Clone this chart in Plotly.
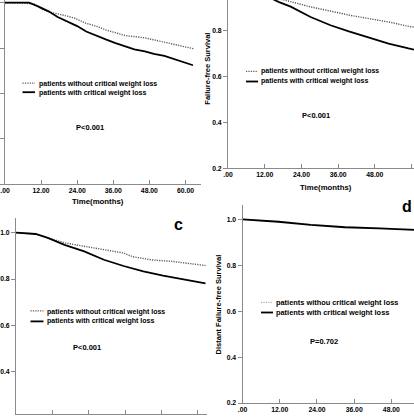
import plotly.graph_objects as go

W, H = 414, 417

# tick labels (SPSS style)
x_tickvals = [0, 12, 24, 36, 48, 60]
x_ticktext = ['.00', '12.00', '24.00', '36.00', '48.00', '60.00']
y_tickvals = [0.2, 0.4, 0.6, 0.8, 1.0]
y_ticktext = ['0.2', '0.4', '0.6', '0.8', '1.0']

label_without = 'patients without critical weight loss'
label_without_d = 'patients withou critical weight loss'
label_with = 'patients with critical weight loss'

# panel a
a_months_without = [0, 9.5, 12.5, 15, 17.5, 23, 27, 30.5, 33.5, 38.5, 40, 46.5, 50, 56.5, 63]
a_surv_without = [1.0, 0.996, 0.970, 0.958, 0.951, 0.933, 0.909, 0.896, 0.880, 0.859, 0.855, 0.845, 0.834, 0.814, 0.796]
a_months_with = [0, 8, 11, 14.5, 17.5, 20.5, 24, 27, 30.5, 33.5, 36.5, 40, 43, 46.5, 49.5, 53, 56, 59.5, 62.5]
a_surv_with = [1.0, 1.0, 0.984, 0.962, 0.937, 0.919, 0.897, 0.873, 0.856, 0.838, 0.823, 0.806, 0.794, 0.785, 0.774, 0.765, 0.752, 0.736, 0.724]
a_pvalue = 'P<0.001'

# panel b - failure-free survival
b_months_without = [0, 6, 10, 14, 17.5, 27, 33.5, 40, 46.5, 53, 59.5, 62]
b_surv_without = [1.0, 0.99, 0.97, 0.953, 0.936, 0.903, 0.884, 0.866, 0.851, 0.836, 0.817, 0.813]
b_months_with = [0, 5, 9, 12.5, 16.5, 20.5, 27, 33.5, 39.5, 46, 52.5, 59, 61.5]
b_surv_with = [1.0, 0.985, 0.965, 0.951, 0.925, 0.904, 0.859, 0.823, 0.796, 0.768, 0.743, 0.722, 0.715]
b_pvalue = 'P<0.001'

# panel c
c_months_without = [0, 6.5, 10.5, 16, 22.5, 29, 35.5, 38.5, 45, 51.5, 57, 62.5]
c_surv_without = [1.0, 0.994, 0.977, 0.956, 0.941, 0.926, 0.912, 0.896, 0.882, 0.876, 0.866, 0.858]
c_months_with = [0, 6.5, 10.5, 16, 22.5, 29, 35.5, 42, 48.5, 55, 62.5]
c_surv_with = [1.0, 0.994, 0.977, 0.947, 0.919, 0.883, 0.856, 0.833, 0.815, 0.800, 0.781]
c_pvalue = 'P<0.001'

# panel d - distant failure-free survival
d_months_without = [0, 11.5, 22, 33, 44, 57]
d_surv_without = [1.0, 0.992, 0.978, 0.968, 0.962, 0.956]
d_months_with = [0, 11.5, 22, 33, 44, 57]
d_surv_with = [1.0, 0.99, 0.976, 0.966, 0.961, 0.954]
d_pvalue = 'P=0.702'


def px(x):
    return x / W


def py(y):
    return 1 - y / H


FONT = 'Liberation Sans, Arial, sans-serif'
AXIS_GREY = '#8a8a8a'
DOT = '1.2px,1.2px'

fig = go.Figure()

panels = [
    ('x', 'y', a_months_without, a_surv_without, a_months_with, a_surv_with, '#5a5a5a'),
    ('x2', 'y2', b_months_without, b_surv_without, b_months_with, b_surv_with, '#5a5a5a'),
    ('x3', 'y3', c_months_without, c_surv_without, c_months_with, c_surv_with, '#5a5a5a'),
    ('x4', 'y4', d_months_without, d_surv_without, d_months_with, d_surv_with, '#b0b0b0'),
]
for xa, ya, mw, sw, mc, sc, dot_color in panels:
    fig.add_trace(go.Scatter(x=mw, y=sw, xaxis=xa, yaxis=ya, mode='lines',
                             line=dict(color=dot_color, width=1.4, dash=DOT),
                             name=label_without, showlegend=False))
    fig.add_trace(go.Scatter(x=mc, y=sc, xaxis=xa, yaxis=ya, mode='lines',
                             line=dict(color='black', width=1.8),
                             name=label_with, showlegend=False))


def xaxis_style(domain, rng, labels=True):
    return dict(domain=domain, range=rng, tickvals=x_tickvals, ticktext=x_ticktext,
                showticklabels=labels,
                showline=True, linecolor=AXIS_GREY, linewidth=1, ticks='inside',
                ticklen=4, tickcolor=AXIS_GREY, showgrid=False, zeroline=False,
                automargin=False, fixedrange=True,
                tickfont=dict(family=FONT, size=6.8, color='black', weight='bold'))


def yaxis_style(domain, rng, labels=True):
    return dict(domain=domain, range=rng, tickvals=y_tickvals, ticktext=y_ticktext,
                showticklabels=labels,
                showline=True, linecolor=AXIS_GREY, linewidth=1, ticks='outside',
                ticklen=4, tickcolor=AXIS_GREY, showgrid=False, zeroline=False,
                automargin=False, fixedrange=True,
                tickfont=dict(family=FONT, size=6.8, color='black', weight='bold'))


fig.update_layout(
    width=W, height=H,
    margin=dict(l=0, r=0, t=0, b=0),
    paper_bgcolor='white', plot_bgcolor='white',
    showlegend=False,
    xaxis=dict(xaxis_style([px(5), px(200.5)], [0, 65]), anchor='y'),
    yaxis=dict(yaxis_style([py(184), 1], [0.2, 1.012], labels=False), anchor='x'),
    xaxis2=dict(xaxis_style([px(228), 1], [0, 60.8]), anchor='y2'),
    yaxis2=dict(yaxis_style([py(168.3), 1], [0.2, 0.933]), anchor='x2'),
    xaxis3=dict(xaxis_style([px(16), px(207)], [0, 63], labels=False), anchor='y3'),
    yaxis3=dict(yaxis_style([py(414), py(218)], [0.218, 1.063]), anchor='x3'),
    xaxis4=dict(xaxis_style([px(242.5), 1], [0, 55.3]), anchor='y4'),
    yaxis4=dict(yaxis_style([py(403), py(205)], [0.2, 1.063]), anchor='x4'),
)


def note(text, x, y, size=7.0, xanchor='center', angle=0):
    fig.add_annotation(text=text, x=px(x), y=py(y), xref='paper', yref='paper',
                       xanchor=xanchor, yanchor='middle', showarrow=False,
                       textangle=angle,
                       font=dict(family=FONT, size=size, color='black', weight='bold'))


def key_line(x0, x1, y, dash, color, width):
    fig.add_shape(type='line', xref='paper', yref='paper',
                  x0=px(x0), x1=px(x1), y0=py(y), y1=py(y),
                  line=dict(color=color, width=width, dash=dash))


# legend keys and labels for each panel
legend_rows = [
    # key x0, key x1, y dotted, y solid, text x, text y1, text y2, dotted colour, first label, size
    (22.5, 35, 83.2, 92.2, 36.5, 84, 92.8, '#5a5a5a', label_without, 7.0),
    (246, 258, 71.4, 81.5, 259, 71, 80.6, '#5a5a5a', label_without, 7.0),
    (30.5, 43.5, 310.8, 321.4, 45, 311.6, 320.6, '#5a5a5a', label_without, 7.0),
    (261, 273, 302.4, 312.5, 274, 302.6, 312.4, '#b0b0b0', label_without_d, 7.4),
]
for k0, k1, yd, ys, tx, ty1, ty2, dcol, lab, fs in legend_rows:
    key_line(k0, k1, yd, DOT, dcol, 1.3)
    key_line(k0, k1, ys, 'solid', 'black', 1.8)
    note(lab, tx, ty1, size=fs, xanchor='left')
    note(label_with, tx, ty2, size=fs, xanchor='left')

note(a_pvalue, 90.2, 127.5, size=7.5)
note(b_pvalue, 316, 115, size=7.5)
note(c_pvalue, 87, 347, size=7.5)
note(d_pvalue, 323.6, 341.3, size=7.5)

note('Time(months)', 98.3, 201.3, size=7.8)
note('Time(months)', 326.3, 187.8, size=7.8)
note('Failure-free Survival', 208, 68.7, size=7.5, angle=-90)
note('Distant Failure-free Survival', 218, 304.4, size=7.5, angle=-90)

note('c', 178, 224, size=16)
note('d', 407, 206, size=16)

# the page body has a default 8px margin; drop it so the figure sits at the corner
fig.write_html('out.html', config={'displayModeBar': False},
               post_script="document.body.style.margin='0';")
